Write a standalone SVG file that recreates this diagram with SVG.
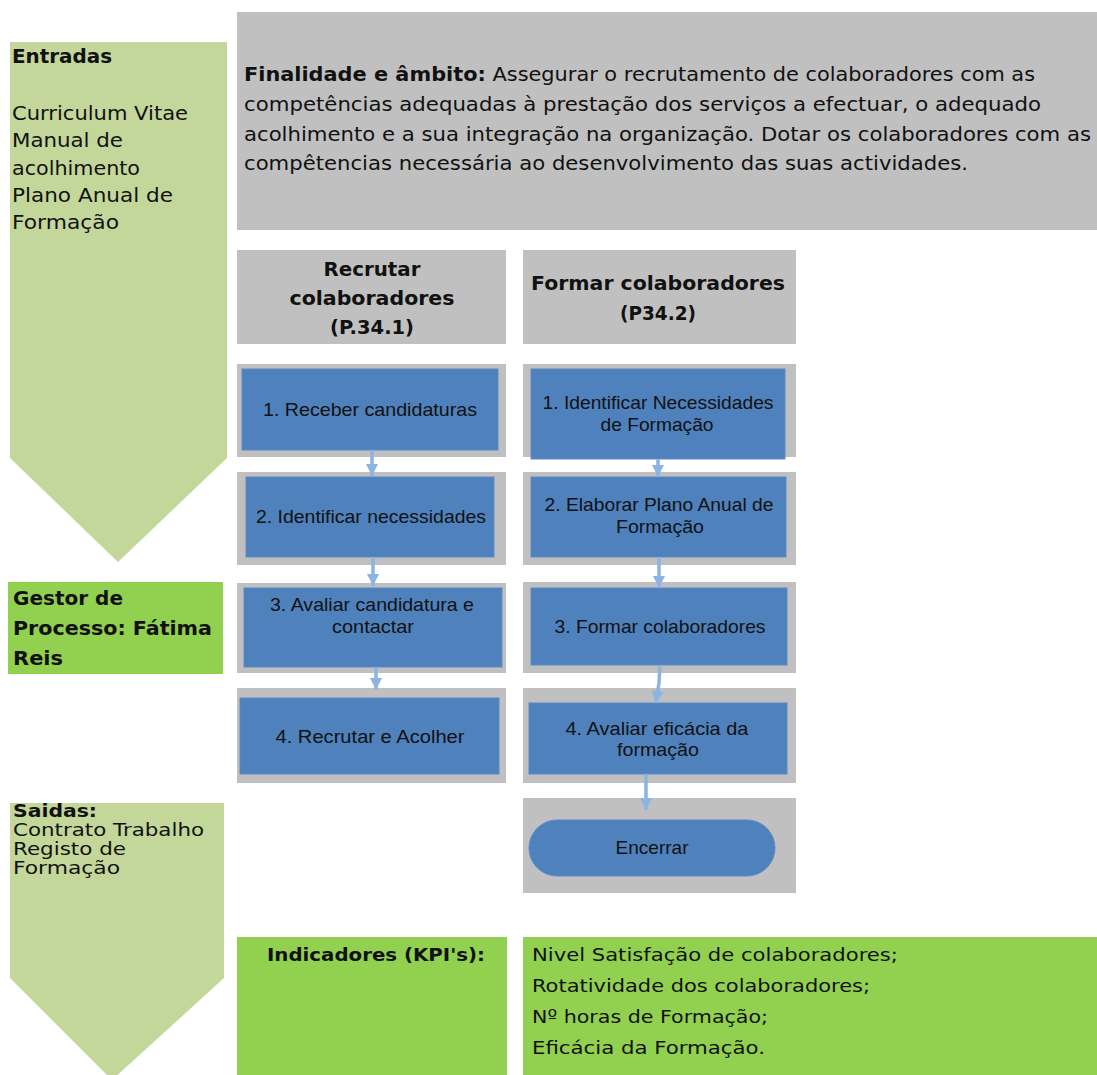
<svg xmlns="http://www.w3.org/2000/svg" width="1097" height="1075" viewBox="0 0 1097 1075">
<defs>
<style>
.gray{fill:#C0C0C0}
.blue{fill:#4F81BD;stroke:#5B8AC4;stroke-width:1}
.lg{fill:#C4D79B}
.bg{fill:#92D050}
.dv{font-family:"DejaVu Sans","Liberation Sans",sans-serif;fill:#111}
.ls{font-family:"Liberation Sans",Arial,sans-serif;fill:#111}
.b{font-weight:bold}
.st{font-size:18.5px}
.conn{stroke:#8DB3E2;stroke-width:3.5;fill:none}
</style>
<marker id="ah" viewBox="0 0 10 10" refX="10" refY="5" markerWidth="12" markerHeight="12" markerUnits="userSpaceOnUse" orient="auto">
<path d="M0,0 L10,5 L0,10 z" fill="#8DB3E2"/>
</marker>
</defs>
<rect width="1097" height="1075" fill="#fff"/>

<g id="entradas">
<polygon class="lg" points="10,42 227,42 227,458 118,562 10,458"/>
<text class="dv b" x="12" y="63" font-size="19.5" textLength="100" lengthAdjust="spacingAndGlyphs">Entradas</text>
<text class="dv" x="12" y="120" font-size="19.5" textLength="176" lengthAdjust="spacingAndGlyphs">Curriculum Vitae</text>
<text class="dv" x="12" y="147" font-size="19.5" textLength="111" lengthAdjust="spacingAndGlyphs">Manual de</text>
<text class="dv" x="12" y="175" font-size="19.5" textLength="128" lengthAdjust="spacingAndGlyphs">acolhimento</text>
<text class="dv" x="12" y="202" font-size="19.5" textLength="161" lengthAdjust="spacingAndGlyphs">Plano Anual de</text>
<text class="dv" x="12" y="229" font-size="19.5" textLength="107" lengthAdjust="spacingAndGlyphs">Formação</text>
</g>

<g id="finalidade">
<rect class="gray" x="237" y="12" width="860" height="218"/>
<text class="dv" x="244" y="81" font-size="19" textLength="791" lengthAdjust="spacingAndGlyphs"><tspan font-weight="bold">Finalidade e âmbito:</tspan> Assegurar o recrutamento de colaboradores com as</text>
<text class="dv" x="244" y="111" font-size="19" textLength="797" lengthAdjust="spacingAndGlyphs">competências adequadas à prestação dos serviços a efectuar, o adequado</text>
<text class="dv" x="244" y="141" font-size="19" textLength="847" lengthAdjust="spacingAndGlyphs">acolhimento e a sua integração na organização. Dotar os colaboradores com as</text>
<text class="dv" x="244" y="170" font-size="19" textLength="724" lengthAdjust="spacingAndGlyphs">compêtencias necessária ao desenvolvimento das suas actividades.</text>
</g>

<g id="hdr-recrutar">
<rect class="gray" x="237" y="250" width="269" height="94"/>
<text class="dv b" x="372" y="276" font-size="19.5" text-anchor="middle" textLength="97" lengthAdjust="spacingAndGlyphs">Recrutar</text>
<text class="dv b" x="372" y="305" font-size="19.5" text-anchor="middle" textLength="165" lengthAdjust="spacingAndGlyphs">colaboradores</text>
<text class="dv b" x="372" y="334" font-size="19.5" text-anchor="middle" textLength="84" lengthAdjust="spacingAndGlyphs">(P.34.1)</text>
</g>

<g id="hdr-formar">
<rect class="gray" x="523" y="250" width="273" height="94"/>
<text class="dv b" x="658" y="290" font-size="19.5" text-anchor="middle" textLength="254" lengthAdjust="spacingAndGlyphs">Formar colaboradores</text>
<text class="dv b" x="658" y="320" font-size="19.5" text-anchor="middle" textLength="76" lengthAdjust="spacingAndGlyphs">(P34.2)</text>
</g>

<g id="gestor">
<rect class="bg" x="8" y="582" width="215" height="92"/>
<text class="dv b" x="13" y="605" font-size="19.5" textLength="110" lengthAdjust="spacingAndGlyphs">Gestor de</text>
<text class="dv b" x="13" y="635" font-size="19.5" textLength="199" lengthAdjust="spacingAndGlyphs">Processo: Fátima</text>
<text class="dv b" x="13" y="665" font-size="19.5" textLength="50" lengthAdjust="spacingAndGlyphs">Reis</text>
</g>

<g id="l1">
<rect class="gray" x="237" y="364" width="269" height="93"/>
<rect class="blue" x="242" y="369" width="256" height="81"/>
<text class="ls st" x="370" y="416" text-anchor="middle" textLength="214" lengthAdjust="spacingAndGlyphs">1.  Receber candidaturas</text>
</g>
<g id="l2">
<rect class="gray" x="237" y="472" width="269" height="93"/>
<rect class="blue" x="246" y="477" width="248" height="80"/>
<text class="ls st" x="371" y="523" text-anchor="middle" textLength="230" lengthAdjust="spacingAndGlyphs">2. Identificar necessidades</text>
</g>
<g id="l3">
<rect class="gray" x="237" y="583" width="269" height="90"/>
<rect class="blue" x="244" y="588" width="258" height="79"/>
<text class="ls st" x="372" y="611" text-anchor="middle" textLength="204" lengthAdjust="spacingAndGlyphs">3. Avaliar candidatura e</text>
<text class="ls st" x="373" y="633" text-anchor="middle" textLength="82" lengthAdjust="spacingAndGlyphs">contactar</text>
</g>
<g id="l4">
<rect class="gray" x="237" y="688" width="269" height="95"/>
<rect class="blue" x="240" y="698" width="259" height="76"/>
<text class="ls st" x="370" y="743" text-anchor="middle" textLength="189" lengthAdjust="spacingAndGlyphs">4.  Recrutar e Acolher</text>
</g>

<g id="r1">
<rect class="gray" x="523" y="364" width="273" height="93"/>
<rect class="blue" x="531" y="369" width="254" height="90"/>
<text class="ls st" x="658" y="409" text-anchor="middle" textLength="231" lengthAdjust="spacingAndGlyphs">1. Identificar Necessidades</text>
<text class="ls st" x="657" y="431" text-anchor="middle" textLength="113" lengthAdjust="spacingAndGlyphs">de Formação</text>
</g>
<g id="r2">
<rect class="gray" x="523" y="472" width="273" height="93"/>
<rect class="blue" x="531" y="477" width="255" height="80"/>
<text class="ls st" x="659" y="511" text-anchor="middle" textLength="229" lengthAdjust="spacingAndGlyphs">2. Elaborar Plano Anual de</text>
<text class="ls st" x="660" y="533" text-anchor="middle" textLength="88" lengthAdjust="spacingAndGlyphs">Formação</text>
</g>
<g id="r3">
<rect class="gray" x="523" y="582" width="273" height="91"/>
<rect class="blue" x="531" y="588" width="256" height="77"/>
<text class="ls st" x="660" y="633" text-anchor="middle" textLength="211" lengthAdjust="spacingAndGlyphs">3. Formar colaboradores</text>
</g>
<g id="r4">
<rect class="gray" x="523" y="688" width="273" height="95"/>
<rect class="blue" x="529" y="703" width="258" height="71"/>
<text class="ls st" x="657" y="735" text-anchor="middle" textLength="183" lengthAdjust="spacingAndGlyphs">4.  Avaliar eficácia da</text>
<text class="ls st" x="658" y="756" text-anchor="middle" textLength="82" lengthAdjust="spacingAndGlyphs">formação</text>
</g>
<g id="r5">
<rect class="gray" x="523" y="798" width="273" height="95"/>
<rect class="blue" x="529" y="820" width="246" height="56" rx="28" ry="28"/>
<text class="ls st" x="652" y="854" text-anchor="middle" textLength="73" lengthAdjust="spacingAndGlyphs">Encerrar</text>
</g>

<g id="saidas">
<polygon class="lg" points="10,803 224,803 224,978 112,1080 10,978"/>
<text class="dv b" x="13" y="817" font-size="18" textLength="84" lengthAdjust="spacingAndGlyphs">Saidas:</text>
<text class="dv" x="13" y="836" font-size="18" textLength="191" lengthAdjust="spacingAndGlyphs">Contrato Trabalho</text>
<text class="dv" x="13" y="855" font-size="18" textLength="113" lengthAdjust="spacingAndGlyphs">Registo de</text>
<text class="dv" x="13" y="874" font-size="18" textLength="107" lengthAdjust="spacingAndGlyphs">Formação</text>
</g>

<g id="indicadores">
<rect class="bg" x="237" y="937" width="270" height="138"/>
<text class="dv b" x="267" y="961" font-size="18" textLength="218" lengthAdjust="spacingAndGlyphs">Indicadores (KPI's):</text>
</g>
<g id="kpis">
<rect class="bg" x="523" y="937" width="574" height="138"/>
<text class="dv" x="532" y="961" font-size="18.5" textLength="366" lengthAdjust="spacingAndGlyphs">Nivel Satisfação de colaboradores;</text>
<text class="dv" x="532" y="992" font-size="18.5" textLength="338" lengthAdjust="spacingAndGlyphs">Rotatividade dos colaboradores;</text>
<text class="dv" x="532" y="1023" font-size="18.5" textLength="236" lengthAdjust="spacingAndGlyphs">Nº horas de Formação;</text>
<text class="dv" x="532" y="1054" font-size="18.5" textLength="233" lengthAdjust="spacingAndGlyphs">Eficácia da Formação.</text>
</g>

<g id="connectors">
<path class="conn" marker-end="url(#ah)" d="M372,450 L372,476"/>
<path class="conn" marker-end="url(#ah)" d="M373,557 L373,586"/>
<path class="conn" marker-end="url(#ah)" d="M376,667 L376,690"/>
<path class="conn" marker-end="url(#ah)" d="M658,459 L658,477"/>
<path class="conn" marker-end="url(#ah)" d="M659,557 L659,588"/>
<path class="conn" marker-end="url(#ah)" d="M660,665 L659,683 L656,703"/>
<path class="conn" marker-end="url(#ah)" d="M646,774 L646,810"/>
</g>
</svg>
